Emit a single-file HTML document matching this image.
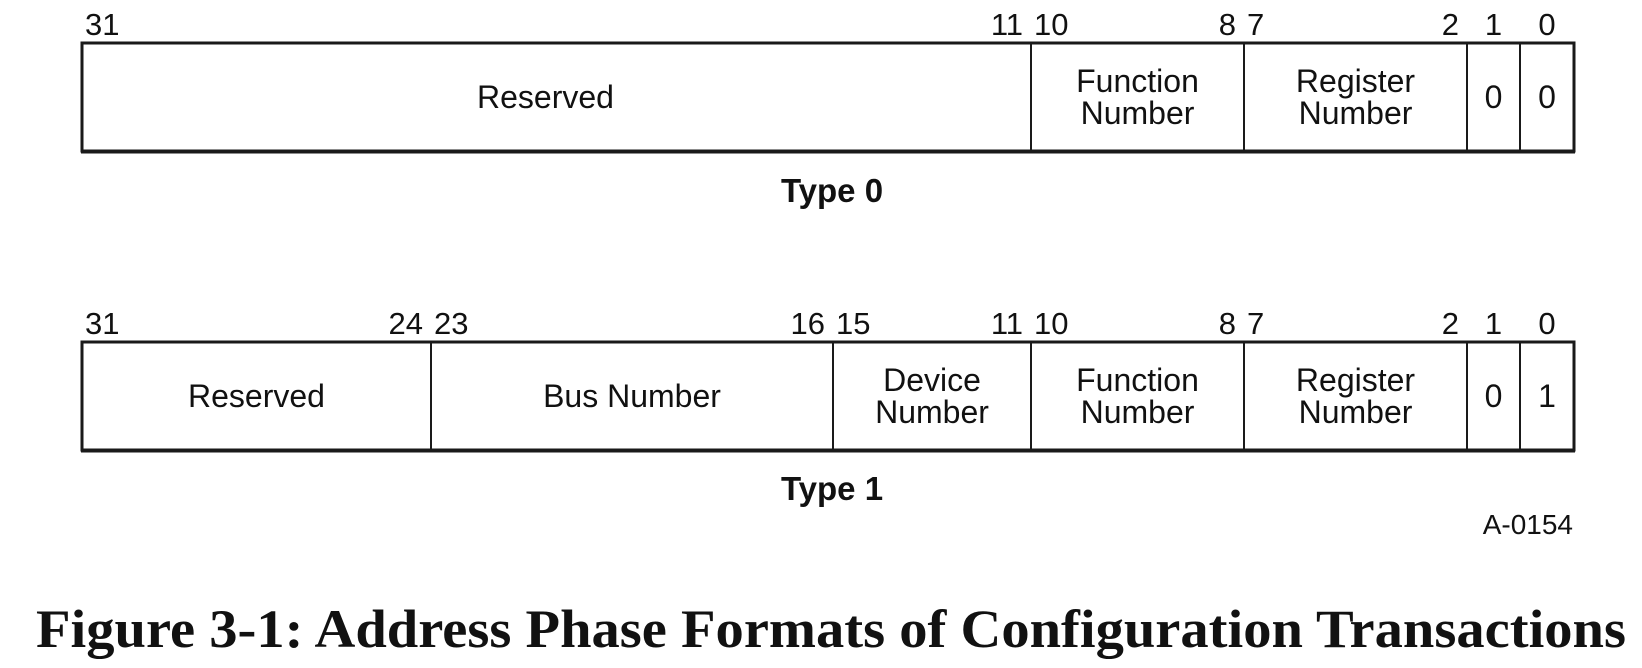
<!DOCTYPE html>
<html><head><meta charset="utf-8"><style>
html,body{margin:0;padding:0;background:#fff;}
svg{display:block;}
text{font-family:"Liberation Sans",Arial,sans-serif;fill:#111;}
</style></head><body>
<svg id="fig" width="1642" height="668" viewBox="0 0 1642 668">
<text x="832" y="202" font-size="33" font-weight="bold" text-anchor="middle">Type 0</text>
<text x="832" y="500" font-size="33" font-weight="bold" text-anchor="middle">Type 1</text>
<text x="1573" y="534" font-size="28" text-anchor="end">A-0154</text>
<text x="36" y="647" font-size="54" font-weight="bold" textLength="1590" lengthAdjust="spacingAndGlyphs" style="font-family:'Liberation Serif','Times New Roman',serif">Figure 3-1:  Address Phase Formats of Configuration Transactions</text>
</svg>
<script>
const boxLeft=82, boxRight=1574;
const type0Fields=[["Reserved"],["Function","Number"],["Register","Number"],["0"],["0"]];
const type0Bits=[[31,11],[10,8],[7,2],[1],[0]];
const type1Fields=[["Reserved"],["Bus Number"],["Device","Number"],["Function","Number"],["Register","Number"],["0"],["1"]];
const type1Bits=[[31,24],[23,16],[15,11],[10,8],[7,2],[1],[0]];
const edgeX={32:82,24:431,16:833,11:1031,8:1244,2:1467,1:1520,0:1574};
const svg=document.getElementById('fig');
const NS='http://www.w3.org/2000/svg';
function mk(tag,attrs){const e=document.createElementNS(NS,tag);for(const k in attrs)e.setAttribute(k,attrs[k]);svg.appendChild(e);return e;}
function draw(fields,bits,top,name){
  const h=108;
  const bottom=top+h;
  let g=mk('rect',{x:boxLeft,y:top,width:boxRight-boxLeft,height:h,fill:'none',stroke:'#1a1a1a','stroke-width':3});
  
  
  let bl=mk('line',{x1:boxLeft-1,y1:bottom+1,x2:boxRight+1,y2:bottom+1,stroke:'#1a1a1a','stroke-width':3});
  
  
  const cy=top+h/2;
  bits.forEach((b,i)=>{
    const hi=b[0], lo=b[b.length-1];
    const x0=edgeX[hi+1]||boxLeft, x1=edgeX[lo];
    if(i>0){
      const d=mk('line',{x1:x0,y1:top,x2:x0,y2:bottom,stroke:'#1a1a1a','stroke-width':2});
      
      
    }
    const lines=fields[i];
    let cx=(x0+x1)/2;
    if(name==='type0' && i===0) cx-=11;
    lines.forEach((s,j)=>{
      const y=cy+ (j-(lines.length-1)/2)*32 + 11;
      const t=mk('text',{x:cx,y:y,'font-size':32,'text-anchor':'middle'});
      t.textContent=s;
      
      
    });
    const ly=top-8;
    if(b.length===1){
      const t=mk('text',{x:(x0+x1)/2,y:ly,'font-size':31,'text-anchor':'middle'});
      t.textContent=String(hi);
      
      
    } else {
      const a=mk('text',{x:x0+3,y:ly,'font-size':31,'text-anchor':'start'});
      a.textContent=String(hi);
      
      
      const c=mk('text',{x:x1-8,y:ly,'font-size':31,'text-anchor':'end'});
      c.textContent=String(lo);
      
      
    }
  });
}
draw(type0Fields,type0Bits,43,'type0');
draw(type1Fields,type1Bits,342,'type1');
</script>
</body></html>
